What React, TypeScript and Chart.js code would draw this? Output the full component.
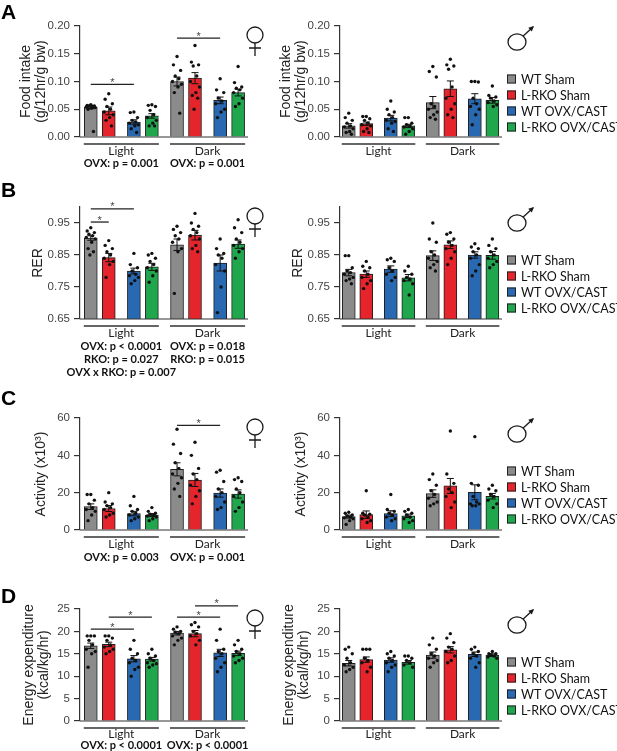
import React, { useEffect, useRef } from 'react';
import { Chart, registerables } from 'chart.js';
Chart.register(...registerables);

// ---------- shared categories ----------
const SERIES = ['WT Sham', 'L-RKO Sham', 'WT OVX/CAST', 'L-RKO OVX/CAST'];
const GROUPS = ['Light', 'Dark'];
const COLORS = ['#8b8b8b', '#e5242b', '#2869b2', '#20a64c'];

// ---------- A: food intake (g/12hr/g bw) ----------
const FOOD_TICKS = [0, 0.05, 0.1, 0.15, 0.2];
const FOOD_F_MEAN = [0.054, 0.047, 0.027, 0.038, 0.1, 0.106, 0.066, 0.08];
const FOOD_F_SEM = [0.003, 0.007, 0.004, 0.004, 0.008, 0.01, 0.006, 0.006];
const FOOD_F_PTS = [
  [0.058, 0.057, 0.056, 0.056, 0.055, 0.054, 0.053, 0.052, 0.05, 0.01],
  [0.078, 0.068, 0.06, 0.055, 0.05, 0.045, 0.04, 0.035, 0.03, 0.02],
  [0.045, 0.044, 0.035, 0.03, 0.027, 0.025, 0.022, 0.02, 0.015, 0.008],
  [0.058, 0.057, 0.055, 0.048, 0.04, 0.035, 0.03, 0.025, 0.02, 0.02],
  [0.145, 0.13, 0.12, 0.11, 0.105, 0.1, 0.095, 0.09, 0.08, 0.043],
  [0.165, 0.135, 0.13, 0.128, 0.11, 0.1, 0.09, 0.08, 0.075, 0.07, 0.05],
  [0.105, 0.085, 0.08, 0.07, 0.065, 0.06, 0.05, 0.045, 0.035],
  [0.127, 0.098, 0.09, 0.088, 0.085, 0.08, 0.07, 0.06, 0.055],
];
const FOOD_F_SIG = [[0, 2, 0.095], [4, 6, 0.178]];
const FOOD_F_P = [['OVX: p = 0.001'], ['OVX: p = 0.001']];
const FOOD_M_MEAN = [0.02, 0.024, 0.034, 0.02, 0.062, 0.087, 0.069, 0.066];
const FOOD_M_SEM = [0.004, 0.003, 0.005, 0.003, 0.011, 0.014, 0.009, 0.005];
const FOOD_M_PTS = [
  [0.043, 0.035, 0.03, 0.025, 0.02, 0.018, 0.015, 0.01, 0.008, 0.005],
  [0.037, 0.037, 0.033, 0.03, 0.025, 0.022, 0.02, 0.015, 0.01, 0.008],
  [0.065, 0.05, 0.045, 0.04, 0.035, 0.03, 0.028, 0.025, 0.015, 0.01],
  [0.035, 0.035, 0.025, 0.022, 0.02, 0.018, 0.015, 0.01, 0.005],
  [0.127, 0.118, 0.108, 0.06, 0.055, 0.05, 0.045, 0.04, 0.035, 0.032],
  [0.14, 0.13, 0.128, 0.122, 0.09, 0.07, 0.06, 0.05, 0.04, 0.035],
  [0.1, 0.1, 0.099, 0.07, 0.06, 0.055, 0.05, 0.04, 0.022],
  [0.092, 0.075, 0.072, 0.07, 0.065, 0.062, 0.058, 0.055],
];

// ---------- B: RER ----------
const RER_TICKS = [0.65, 0.75, 0.85, 0.95];
const RER_F_MEAN = [0.903, 0.842, 0.8, 0.813, 0.882, 0.912, 0.825, 0.884];
const RER_F_SEM = [0.007, 0.013, 0.009, 0.011, 0.018, 0.015, 0.025, 0.013];
const RER_F_PTS = [
  [0.935, 0.925, 0.92, 0.915, 0.91, 0.905, 0.9, 0.89, 0.87, 0.86, 0.85],
  [0.895, 0.88, 0.87, 0.86, 0.85, 0.84, 0.83, 0.82, 0.78],
  [0.855, 0.82, 0.81, 0.8, 0.79, 0.785, 0.78, 0.77, 0.76],
  [0.855, 0.85, 0.84, 0.83, 0.82, 0.81, 0.8, 0.785, 0.765],
  [0.94, 0.93, 0.92, 0.91, 0.9, 0.89, 0.87, 0.86, 0.73],
  [0.98, 0.95, 0.94, 0.93, 0.92, 0.91, 0.9, 0.88, 0.87, 0.86],
  [0.9, 0.87, 0.855, 0.85, 0.84, 0.82, 0.8, 0.75, 0.67],
  [0.96, 0.935, 0.92, 0.9, 0.89, 0.88, 0.87, 0.86, 0.84],
];
const RER_F_SIG = [[0, 1, 0.953], [0, 2, 0.994]];
const RER_F_P = [
  ['OVX: p < 0.0001', 'RKO: p = 0.027', 'OVX x RKO: p = 0.007'],
  ['OVX: p = 0.018', 'RKO: p = 0.015'],
];
const RER_M_MEAN = [0.795, 0.79, 0.806, 0.779, 0.848, 0.882, 0.85, 0.849];
const RER_M_SEM = [0.01, 0.01, 0.01, 0.01, 0.015, 0.012, 0.01, 0.012];
const RER_M_PTS = [
  [0.848, 0.848, 0.81, 0.8, 0.795, 0.79, 0.78, 0.775, 0.77, 0.76],
  [0.83, 0.815, 0.81, 0.8, 0.79, 0.78, 0.77, 0.76, 0.745],
  [0.84, 0.835, 0.83, 0.81, 0.8, 0.79, 0.78, 0.77],
  [0.815, 0.8, 0.79, 0.78, 0.775, 0.77, 0.76, 0.725],
  [0.95, 0.9, 0.89, 0.86, 0.85, 0.84, 0.83, 0.82, 0.81, 0.8],
  [0.92, 0.915, 0.9, 0.89, 0.88, 0.87, 0.86, 0.84, 0.82],
  [0.885, 0.875, 0.87, 0.86, 0.85, 0.84, 0.82, 0.8, 0.785],
  [0.9, 0.88, 0.87, 0.86, 0.85, 0.84, 0.83, 0.82, 0.81],
];

// ---------- C: activity (x10^3) ----------
const ACT_TICKS = [0, 20, 40, 60];
const ACT_F_MEAN = [12.5, 11.5, 8.8, 8.0, 32.5, 26.8, 19.8, 19.3];
const ACT_F_SEM = [1.5, 1.6, 1.2, 0.8, 3.5, 3.5, 2.2, 2.2];
const ACT_F_PTS = [
  [19, 19, 16, 14, 12, 11, 10, 8, 5],
  [20, 15, 14, 13, 12, 11, 9, 8, 7],
  [18, 13, 11, 10, 9, 8, 7, 6, 5],
  [12, 10, 9, 8.5, 8, 7.5, 7, 6, 5],
  [54, 46, 41, 36, 33, 30, 28, 25, 22, 18],
  [47, 40, 33, 30, 27, 24, 21, 18, 14],
  [32, 31, 26, 22, 20, 18, 15, 12, 11],
  [28, 27, 26, 22, 20, 18, 15, 12, 10],
];
const ACT_F_SIG = [[4, 6, 56]];
const ACT_F_P = [['OVX: p = 0.003'], ['OVX: p = 0.001']];
const ACT_M_MEAN = [7.2, 8.2, 8.8, 7.6, 19.5, 23.6, 20.2, 18.1];
const ACT_M_SEM = [0.8, 2.0, 1.5, 0.9, 2.0, 4.0, 4.0, 1.5];
const ACT_M_PTS = [
  [9.5, 9, 8, 7.5, 7, 6.5, 6, 5, 3],
  [21, 9, 8.5, 8, 7, 6, 5, 4],
  [19, 11, 10, 9, 8, 7, 6, 5],
  [11, 10, 9, 8, 7, 6, 5, 4],
  [30, 27, 24, 21, 19, 17, 15, 14, 13],
  [53, 30, 25, 22, 20, 18, 15, 12],
  [50, 25, 24, 18, 15, 14, 14, 13, 13],
  [24, 22, 21, 19, 18, 16, 14, 12],
];

// ---------- D: energy expenditure (kcal/kg/hr) ----------
const EE_TICKS = [0, 5, 10, 15, 20, 25];
const EE_F_MEAN = [16.8, 17.1, 13.9, 13.8, 19.6, 19.5, 15.2, 15.1];
const EE_F_SEM = [0.6, 0.5, 0.7, 0.4, 0.4, 0.7, 0.8, 0.5];
const EE_F_PTS = [
  [19, 19, 19, 18, 17, 16, 15.5, 15, 12],
  [19, 19, 18.5, 18, 17, 16.5, 16, 15.5, 15],
  [18, 16, 15, 14, 13.5, 13, 12, 11.5, 10],
  [16, 15, 14.5, 14, 13.5, 13, 12.8, 12.5, 12],
  [21, 20.5, 20, 19.8, 19.5, 19, 18.5, 18, 17],
  [22, 21.5, 21, 20, 19.5, 19, 18, 17],
  [20.5, 18, 16, 15.5, 15, 14, 13, 12, 11],
  [18, 17, 16, 15.5, 15, 14.5, 14, 13.5, 13],
];
const EE_F_SIG = [[0, 2, 20.5], [1, 3, 23.2], [4, 6, 23.2], [5, 7, 25.7]];
const EE_F_P = [['OVX: p < 0.0001'], ['OVX: p < 0.0001']];
const EE_M_MEAN = [12.9, 13.7, 13.6, 13.1, 14.7, 15.9, 14.9, 14.7];
const EE_M_SEM = [0.6, 0.6, 0.5, 0.4, 0.7, 0.7, 0.5, 0.3];
const EE_M_PTS = [
  [16.5, 16, 15, 14, 13, 12.5, 12, 11.5, 11],
  [16, 16, 16, 14, 13.5, 13, 12, 11],
  [15.5, 15, 14.5, 14, 13.5, 13, 12.5, 12, 11],
  [14.5, 14.5, 14, 13.5, 13, 12.5, 12],
  [18.5, 17, 16, 15, 14.5, 14, 13.5, 13, 12],
  [19.5, 18.5, 17.5, 16.5, 16, 15.5, 14.5, 13.5, 13],
  [16.5, 16, 15.5, 15, 14.5, 14, 13, 12],
  [15.5, 15, 15, 14.8, 14.5, 14.3, 14],
];

// ---------- layout constants ----------
const X_POS = [0, 1, 2.4, 3.4, 4.8, 5.8, 7.2, 8.2];
const JITTER = [0, -0.2, 0.2, -0.1, 0.1, -0.25, 0.25, 0.05, -0.15, 0.15, -0.05];
const PADT = 22;
const TICK_FONT = { family: '"Liberation Sans", Arial, sans-serif', size: 11.5 };
const TITLE_FONT = { family: '"Liberation Sans", Arial, sans-serif', size: 14, lineHeight: 1.1 };

type Cfg = {
  title: string[]; titlePad: number; ticks: number[]; min: number; max: number; dec: number;
  mean: number[]; sem: number[]; pts: number[][]; sig: number[][]; pvals: string[][];
  top: number; plotH: number; padB: number; labOff: number; pOff: number;
};

function drawFemale(ctx: CanvasRenderingContext2D, cx: number, cy: number) {
  ctx.save();
  ctx.strokeStyle = '#1a1a1a'; ctx.lineWidth = 1.3;
  ctx.beginPath(); ctx.arc(cx, cy, 8, 0, Math.PI * 2); ctx.stroke();
  ctx.beginPath(); ctx.moveTo(cx, cy + 8); ctx.lineTo(cx, cy + 21);
  ctx.moveTo(cx - 6, cy + 13); ctx.lineTo(cx + 6, cy + 13); ctx.stroke();
  ctx.restore();
}

function drawMale(ctx: CanvasRenderingContext2D, cx: number, cy: number) {
  ctx.save();
  ctx.strokeStyle = '#1a1a1a'; ctx.fillStyle = '#1a1a1a'; ctx.lineWidth = 1.3;
  ctx.beginPath(); ctx.ellipse(cx, cy, 9, 8.2, 0, 0, Math.PI * 2); ctx.stroke();
  const sx = cx + 6.2, sy = cy - 6, ex = cx + 17, ey = cy - 16;
  ctx.beginPath(); ctx.moveTo(sx, sy); ctx.lineTo(ex - 1, ey + 1); ctx.stroke();
  const ang = Math.atan2(ey - sy, ex - sx);
  ctx.beginPath();
  ctx.moveTo(ex, ey);
  ctx.lineTo(ex - 6 * Math.cos(ang - 0.45), ey - 6 * Math.sin(ang - 0.45));
  ctx.lineTo(ex - 6 * Math.cos(ang + 0.45), ey - 6 * Math.sin(ang + 0.45));
  ctx.closePath(); ctx.fill();
  ctx.restore();
}

function makeDecor(c: Cfg, male: boolean) {
  return {
    id: 'decor',
    afterDraw(chart: any) {
      const ctx: CanvasRenderingContext2D = chart.ctx;
      const xs = chart.scales.x; const ys = chart.scales.y; const ca = chart.chartArea;
      const px = (i: number) => xs.getPixelForValue(X_POS[i]);
      ctx.save();
      // x axis line
      ctx.strokeStyle = '#333'; ctx.lineWidth = 1.2;
      ctx.beginPath(); ctx.moveTo(ca.left, ca.bottom); ctx.lineTo(ca.right, ca.bottom); ctx.stroke();
      // error bars (mean ± SEM)
      ctx.strokeStyle = '#111'; ctx.lineWidth = 1;
      c.mean.forEach((m, i) => {
        const x = px(i);
        const t = ys.getPixelForValue(m + c.sem[i]);
        const b = ys.getPixelForValue(m - c.sem[i]);
        ctx.beginPath();
        ctx.moveTo(x, t); ctx.lineTo(x, b);
        ctx.moveTo(x - 3.5, t); ctx.lineTo(x + 3.5, t);
        ctx.moveTo(x - 3.5, b); ctx.lineTo(x + 3.5, b);
        ctx.stroke();
      });
      // significance brackets
      ctx.strokeStyle = '#222'; ctx.lineWidth = 1.3; ctx.fillStyle = '#444';
      ctx.font = '11px "Liberation Sans", Arial, sans-serif';
      ctx.textAlign = 'center'; ctx.textBaseline = 'alphabetic';
      c.sig.forEach(([a, b, v]) => {
        const y = ys.getPixelForValue(v);
        const x1 = px(a), x2 = px(b);
        ctx.beginPath(); ctx.moveTo(x1, y); ctx.lineTo(x2, y); ctx.stroke();
        ctx.fillText('*', (x1 + x2) / 2, y + 1.5);
      });
      // group underlines, labels, stats
      GROUPS.forEach((g, gi) => {
        const l = px(gi * 4) - 7, r = px(gi * 4 + 3) + 7, mid = (l + r) / 2;
        ctx.strokeStyle = '#333'; ctx.lineWidth = 1.3;
        ctx.beginPath(); ctx.moveTo(l, ca.bottom + 7); ctx.lineTo(r, ca.bottom + 7); ctx.stroke();
        ctx.fillStyle = '#222'; ctx.textBaseline = 'middle';
        ctx.font = '12px Lato, "Open Sans", sans-serif';
        ctx.fillText(g, mid, ca.bottom + c.labOff);
        ctx.font = 'bold 11px Lato, "Open Sans", sans-serif';
        ctx.fillStyle = '#111';
        (c.pvals[gi] || []).forEach((s, k) => ctx.fillText(s, mid, ca.bottom + c.pOff + k * 13));
      });
      if (male) {
        drawMale(ctx, 257, ca.top + 16);
        // legend
        ctx.textAlign = 'left'; ctx.textBaseline = 'middle';
        ctx.font = '12.5px Lato, "Open Sans", sans-serif';
        SERIES.forEach((s, i) => {
          const y = ca.top + 53 + i * 16;
          ctx.fillStyle = COLORS[i];
          ctx.fillRect(247, y - 4.5, 9, 9);
          ctx.strokeStyle = '#222'; ctx.lineWidth = 1;
          ctx.strokeRect(247.5, y - 4, 8, 8);
          ctx.fillStyle = '#111';
          ctx.fillText(s, 261, y + 0.5);
        });
      } else {
        drawFemale(ctx, 255, ca.top + 9);
      }
      ctx.restore();
    },
  };
}

function PanelChart(props: { cfg: Cfg; left: number; width: number; padRight: number; xmin: number; xmax: number; male: boolean }) {
  const { cfg, left, width, padRight, xmin, xmax, male } = props;
  const ref = useRef<HTMLCanvasElement>(null);
  const height = PADT + cfg.plotH + cfg.padB;
  useEffect(() => {
    const points: { x: number; y: number }[] = [];
    cfg.pts.forEach((arr, i) => arr.forEach((v, j) => points.push({ x: X_POS[i] + JITTER[j % JITTER.length], y: v })));
    const chart = new Chart(ref.current as HTMLCanvasElement, {
      type: 'bar',
      data: {
        datasets: [
          {
            type: 'scatter',
            data: points,
            pointRadius: 1.7,
            pointBackgroundColor: '#111',
            pointBorderWidth: 0,
            order: 1,
          } as any,
          {
            type: 'bar',
            data: X_POS.map((x, i) => ({ x, y: cfg.mean[i] })),
            backgroundColor: X_POS.map((_, i) => COLORS[i % 4]),
            borderColor: '#1e1e1e',
            borderWidth: 1,
            barThickness: 13,
            order: 2,
          } as any,
        ],
      },
      options: {
        animation: false,
        responsive: false,
        events: [],
        layout: { padding: { left: 0, right: padRight, top: PADT, bottom: cfg.padB } },
        plugins: { legend: { display: false }, tooltip: { enabled: false } },
        scales: {
          x: { type: 'linear', min: xmin, max: xmax, display: false, offset: false },
          y: {
            type: 'linear',
            min: cfg.min,
            max: cfg.max,
            afterBuildTicks: (s: any) => { s.ticks = cfg.ticks.map((v) => ({ value: v })); },
            afterFit: (s: any) => { s.width = 80; },
            ticks: {
              font: TICK_FONT,
              color: '#444',
              padding: 4,
              callback: (v: any) => Number(v).toFixed(cfg.dec),
            },
            grid: { display: true, drawOnChartArea: false, drawTicks: true, tickLength: 6, color: '#333', lineWidth: 1.2 },
            border: { display: true, color: '#333', width: 1.2 },
            title: {
              display: true,
              text: cfg.title,
              font: TITLE_FONT,
              color: '#222',
              padding: { top: cfg.titlePad, bottom: 0 },
            },
          },
        },
      } as any,
      plugins: [makeDecor(cfg, male)],
    });
    return () => chart.destroy();
  }, []);
  return (
    <canvas
      ref={ref}
      width={width}
      height={height}
      style={{ position: 'absolute', left, top: cfg.top - PADT, width, height }}
    />
  );
}

const PANELS = [
  {
    letter: 'A', letterTop: 1,
    f: { title: ['Food intake', '(g/12hr/g bw)'], titlePad: 18, ticks: FOOD_TICKS, min: 0, max: 0.2, dec: 2, mean: FOOD_F_MEAN, sem: FOOD_F_SEM, pts: FOOD_F_PTS, sig: FOOD_F_SIG, pvals: FOOD_F_P, top: 26, plotH: 111, padB: 40, labOff: 14, pOff: 26.5 },
    m: { title: ['Food intake', '(g/12hr/g bw)'], titlePad: 18, ticks: FOOD_TICKS, min: 0, max: 0.2, dec: 2, mean: FOOD_M_MEAN, sem: FOOD_M_SEM, pts: FOOD_M_PTS, sig: [], pvals: [], top: 26, plotH: 111, padB: 40, labOff: 14, pOff: 26.5 },
  },
  {
    letter: 'B', letterTop: 179,
    f: { title: ['RER'], titlePad: 30, ticks: RER_TICKS, min: 0.65, max: 1.0, dec: 2, mean: RER_F_MEAN, sem: RER_F_SEM, pts: RER_F_PTS, sig: RER_F_SIG, pvals: RER_F_P, top: 207, plotH: 112, padB: 62, labOff: 14, pOff: 27 },
    m: { title: ['RER'], titlePad: 30, ticks: RER_TICKS, min: 0.65, max: 1.0, dec: 2, mean: RER_M_MEAN, sem: RER_M_SEM, pts: RER_M_PTS, sig: [], pvals: [], top: 207, plotH: 112, padB: 62, labOff: 14, pOff: 27 },
  },
  {
    letter: 'C', letterTop: 387,
    f: { title: ['Activity (x10³)'], titlePad: 33, ticks: ACT_TICKS, min: 0, max: 60, dec: 0, mean: ACT_F_MEAN, sem: ACT_F_SEM, pts: ACT_F_PTS, sig: ACT_F_SIG, pvals: ACT_F_P, top: 418, plotH: 112, padB: 42, labOff: 14, pOff: 27.5 },
    m: { title: ['Activity (x10³)'], titlePad: 33, ticks: ACT_TICKS, min: 0, max: 60, dec: 0, mean: ACT_M_MEAN, sem: ACT_M_SEM, pts: ACT_M_PTS, sig: [], pvals: [], top: 418, plotH: 112, padB: 42, labOff: 14, pOff: 27.5 },
  },
  {
    letter: 'D', letterTop: 585,
    f: { title: ['Energy expenditure', '(kcal/kg/hr)'], titlePad: 21, ticks: EE_TICKS, min: 0, max: 25, dec: 0, mean: EE_F_MEAN, sem: EE_F_SEM, pts: EE_F_PTS, sig: EE_F_SIG, pvals: EE_F_P, top: 609, plotH: 112, padB: 30, labOff: 13, pOff: 24.5 },
    m: { title: ['Energy expenditure', '(kcal/kg/hr)'], titlePad: 21, ticks: EE_TICKS, min: 0, max: 25, dec: 0, mean: EE_M_MEAN, sem: EE_M_SEM, pts: EE_M_PTS, sig: [], pvals: [], top: 609, plotH: 112, padB: 30, labOff: 13, pOff: 24.5 },
  },
];

export default function App() {
  return (
    <div style={{ position: 'absolute', left: 0, top: 0, width: 617, height: 751, background: '#fff', overflow: 'hidden' }}>
      {PANELS.map((p) => (
        <React.Fragment key={p.letter}>
          <PanelChart cfg={p.f as Cfg} left={0} width={300} padRight={52} xmin={-0.6} xmax={8.75} male={false} />
          <PanelChart cfg={p.m as Cfg} left={260} width={357} padRight={115} xmin={-0.5} xmax={8.75} male={true} />
          <div
            style={{
              position: 'absolute', left: 1, top: p.letterTop,
              fontFamily: '"Liberation Sans", Arial, sans-serif', fontWeight: 'bold',
              fontSize: 21, lineHeight: '21px', color: '#000',
            }}
          >
            {p.letter}
          </div>
        </React.Fragment>
      ))}
    </div>
  );
}
